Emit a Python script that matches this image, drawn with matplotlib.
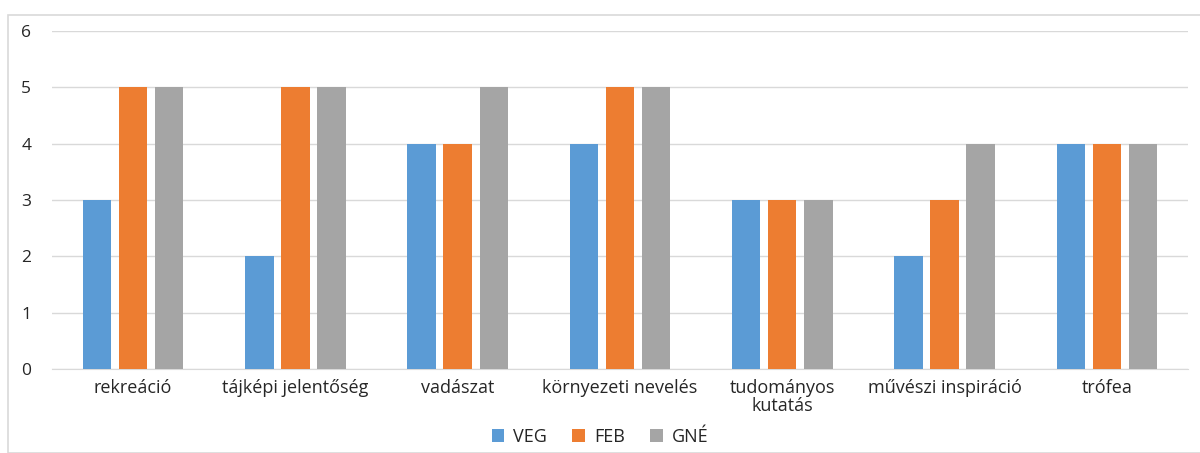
import numpy as np
import matplotlib.pyplot as plt
from matplotlib.patches import Rectangle

categories = ["rekreáció", "tájképi jelentőség", "vadászat", "környezeti nevelés",
              "tudományos\nkutatás", "művészi inspiráció", "trófea"]
veg = [3, 2, 4, 4, 3, 2, 4]
feb = [5, 5, 4, 5, 3, 3, 4]
gne = [5, 5, 5, 5, 3, 4, 4]
series_names = ["VEG", "FEB", "GNÉ"]
colors = ["#5b9bd5", "#ed7d31", "#a5a5a5"]

plt.rcParams['font.family'] = ['Open Sans', 'DejaVu Sans']

fig = plt.figure(figsize=(12, 4.53), dpi=100)
ax = fig.add_axes([0.0433, 0.1854, 0.9467, 0.7462])

# keret a diagram körül
fig.patches.append(Rectangle((8 / 1200, 0), 1.0, 1 - 15 / 453, transform=fig.transFigure,
                             fill=False, edgecolor="#d9d9d9", linewidth=1.2))

x = np.arange(len(categories))
offset = 0.222
width = 0.175
for i, (vals, name) in enumerate(zip([veg, feb, gne], series_names)):
    ax.bar(x + (i - 1) * offset, vals, width, color=colors[i], label=name, zorder=3)

ax.set_xlim(-0.5, len(categories) - 0.5)
ax.set_ylim(0, 6)
ax.set_yticks(range(0, 7))
ax.set_xticks(x)
ax.set_xticklabels(categories, fontsize=13, color="#262626", linespacing=1.0)
ax.tick_params(axis='y', labelsize=12.5, colors="#262626", length=0, pad=15)
ax.tick_params(axis='x', length=0, pad=7)

ax.grid(axis='y', color="#d9d9d9", linewidth=1, zorder=0)
for s in ["top", "right", "left"]:
    ax.spines[s].set_visible(False)
ax.spines["bottom"].set_color("#d9d9d9")

fig.legend(*ax.get_legend_handles_labels(), loc="center", bbox_to_anchor=(0.5, 1 - 437 / 453),
           ncol=3, frameon=False, fontsize=13, handlelength=0.7, handleheight=0.7,
           columnspacing=1.4, handletextpad=0.5, labelcolor="#262626")

fig.savefig("out.png", dpi=100)
